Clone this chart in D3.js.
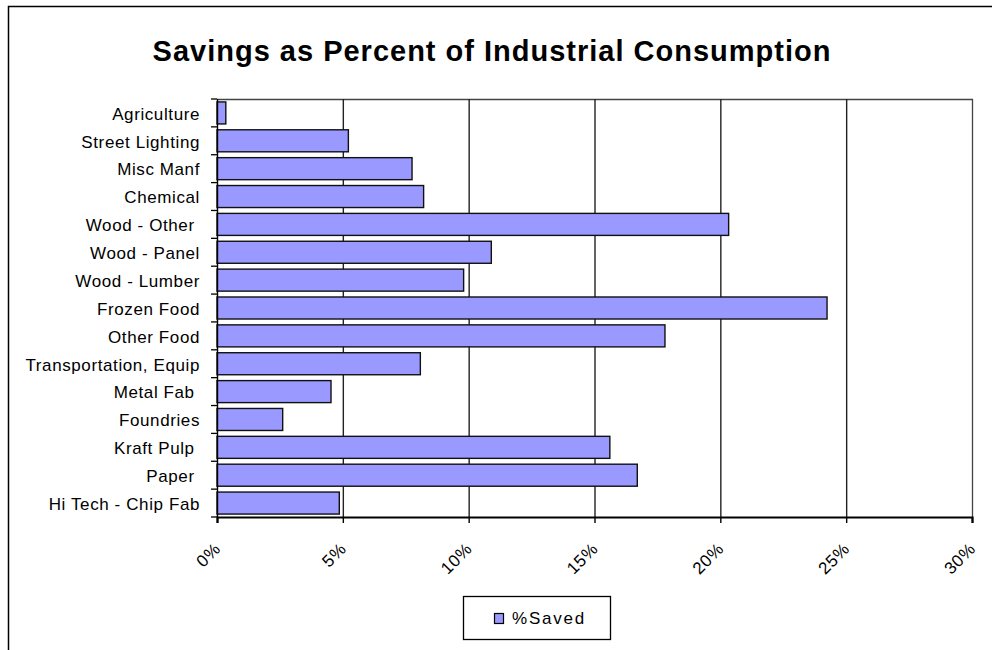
<!DOCTYPE html>
<html>
<head>
<meta charset="utf-8">
<script src="https://cdn.jsdelivr.net/npm/d3@7"></script>
<style>
  body { margin: 0; background: #fff; }
  svg text { font-family: Arial, "Liberation Sans", sans-serif; fill: #000; white-space: pre; }
</style>
</head>
<body>
<svg id="chart" width="992" height="650"></svg>
<script>
// data (percent saved)
const categories = ["Agriculture", "Street Lighting", "Misc Manf", "Chemical", "Wood - Other ",
  "Wood - Panel", "Wood - Lumber", "Frozen Food", "Other Food", "Transportation, Equip",
  "Metal Fab ", "Foundries", "Kraft Pulp ", "Paper ", "Hi Tech - Chip Fab"];
const saved = [0.35, 5.22, 7.75, 8.21, 20.33, 10.9, 9.8, 24.24, 17.8, 8.08, 4.53, 2.61, 15.61, 16.7, 4.86];
const xTicks = [0, 5, 10, 15, 20, 25, 30];
const title = "Savings as Percent of Industrial Consumption";
const seriesName = "%Saved";

const svg = d3.select("#chart");
const plotL = 217, plotR = 972, plotT = 99, plotB = 517;

// outer chart border
svg.append("rect")
  .attr("x", 8.5).attr("y", 6.5)
  .attr("width", 1000).attr("height", 700)
  .attr("fill", "none").attr("stroke", "#000").attr("stroke-width", 1.5);

svg.append("text")
  .attr("x", 492).attr("y", 61)
  .attr("text-anchor", "middle")
  .style("font-size", "29px").style("font-weight", "bold").style("letter-spacing", "1px")
  .text(title);

const x = d3.scaleLinear().domain([0, 30]).range([plotL, plotR]);
const y = d3.scaleBand().domain(categories).range([plotT, plotB])
  .paddingInner(0.21).paddingOuter(0.105);

// plot frame (top / right)
svg.append("path")
  .attr("d", `M${plotL},${plotT + 0.5}H${plotR + 0.5}V${plotB}`)
  .attr("fill", "none").attr("stroke", "#444").attr("stroke-width", 1.3);

// gridlines
svg.append("g").selectAll("line")
  .data(xTicks.slice(1, -1))
  .enter().append("line")
  .attr("x1", d => x(d) + 0.5).attr("x2", d => x(d) + 0.5)
  .attr("y1", plotT).attr("y2", plotB)
  .attr("stroke", "#222").attr("stroke-width", 1.4);

// bars
svg.append("g").selectAll("rect")
  .data(categories)
  .enter().append("rect")
  .attr("x", x(0))
  .attr("y", d => y(d))
  .attr("width", (d, i) => x(saved[i]) - x(0))
  .attr("height", y.bandwidth())
  .attr("fill", "#9999ff")
  .attr("stroke", "#111")
  .attr("stroke-width", 1.4);

// y axis
const yAxis = svg.append("g");
yAxis.append("line")
  .attr("x1", plotL + 0.5).attr("x2", plotL + 0.5)
  .attr("y1", plotT).attr("y2", plotB)
  .attr("stroke", "#000").attr("stroke-width", 1.4);
yAxis.selectAll("line.tick")
  .data(d3.range(categories.length + 1))
  .enter().append("line").attr("class", "tick")
  .attr("x1", plotL - 6).attr("x2", plotL)
  .attr("y1", i => plotT + i * y.step()).attr("y2", i => plotT + i * y.step())
  .attr("stroke", "#000").attr("stroke-width", 1.3);
yAxis.selectAll("text")
  .data(categories)
  .enter().append("text")
  .attr("x", 200)
  .attr("y", d => y(d) + y.bandwidth() / 2)
  .attr("dy", "0.4em")
  .attr("text-anchor", "end")
  .style("font-size", "17px").style("letter-spacing", "0.6px")
  .text(d => d);

// x axis
const xAxis = svg.append("g").attr("transform", `translate(0,${plotB})`)
  .call(d3.axisBottom(x).tickValues(xTicks).tickSize(6).tickFormat(d => d + "%"));
xAxis.select(".domain").attr("stroke", "#000").attr("stroke-width", 2.2);
xAxis.selectAll(".tick line").attr("stroke", "#000").attr("stroke-width", 1.4);
xAxis.selectAll(".tick text")
  .attr("x", 0).attr("y", 0).attr("dy", 0)
  .attr("text-anchor", "end")
  .attr("transform", "translate(4,33) rotate(-45)")
  .style("font-size", "17px").style("letter-spacing", "0.6px")
  .style("font-family", "Arial, 'Liberation Sans', sans-serif")
  .attr("fill", "#000");

// legend
const legend = svg.append("g");
legend.append("rect")
  .attr("x", 463.5).attr("y", 596.5).attr("width", 147).attr("height", 43)
  .attr("fill", "#fff").attr("stroke", "#000").attr("stroke-width", 1.3);
legend.append("rect")
  .attr("x", 494.5).attr("y", 613.5).attr("width", 9).attr("height", 10)
  .attr("fill", "#9999ff").attr("stroke", "#000").attr("stroke-width", 1.2);
legend.append("text")
  .attr("x", 512).attr("y", 624)
  .style("font-size", "17px").style("letter-spacing", "1.8px")
  .text(seriesName);
</script>
</body>
</html>
